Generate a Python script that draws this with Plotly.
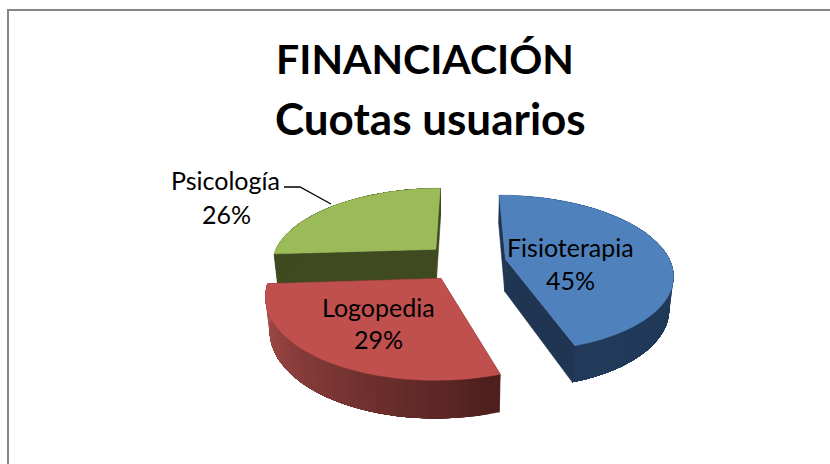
import math
import plotly.graph_objects as go

categories = ["Fisioterapia", "Logopedia", "Psicología"]
values = [45, 29, 26]
percent_labels = ["45%", "29%", "26%"]
top_colors = ["#4F81BD", "#C0504D", "#9BBB59"]
side_colors = ["#1F3552", "#4E1F1D", "#3F4A20"]
wall_light = ["#213A5A", "#AC504D", "#3F4A20"]

CX, CY, RX, RY, DEPTH, K, M, EXPLODE = 465, 262, 165, 76.5, 33, 0.182, 0.02, 0.25


def project(X, Y, Z):
    w = 1 / (1 + K * Y + M * Z)
    return CX + RX * X * w, CY - RY * Y * w + DEPTH * Z * w


def hex_rgb(c):
    return [int(c[i:i + 2], 16) for i in (1, 3, 5)]


def mix(a, b, t):
    ra, rb = hex_rgb(a), hex_rgb(b)
    return "rgb(%d,%d,%d)" % tuple(round(p + (q - p) * t) for p, q in zip(ra, rb))


fig = go.Figure()


def poly(points, color, edge=0.6):
    fig.add_trace(go.Scatter(
        x=[p[0] for p in points] + [points[0][0]],
        y=[p[1] for p in points] + [points[0][1]],
        mode="lines", fill="toself", fillcolor=color,
        line=dict(color=color, width=edge), hoverinfo="skip", showlegend=False))


total = sum(values)
slices = []
start = 0.0
for i, v in enumerate(values):
    sweep = 360.0 * v / total
    slices.append((i, start, start + sweep))
    start += sweep

# back to front: green, blue, red
for i, a0, a1 in [slices[2], slices[0], slices[1]]:
    mid = math.radians((a0 + a1) / 2)
    ox, oy = EXPLODE * math.sin(mid), EXPLODE * math.cos(mid)
    n = 36
    angles = [math.radians(a0 + (a1 - a0) * j / n) for j in range(n + 1)]
    rim = [(ox + math.sin(a), oy + math.cos(a)) for a in angles]
    # radial walls
    for X, Y in (rim[0], rim[-1]):
        poly([project(ox, oy, 0), project(X, Y, 0), project(X, Y, 1), project(ox, oy, 1)], side_colors[i])
    # outer wall, shaded along the sweep; each strip runs to the far end so no seams show
    for j in range(n):
        strip = rim[j:]
        poly([project(X, Y, 0) for X, Y in strip] + [project(X, Y, 1) for X, Y in reversed(strip)],
             mix(side_colors[i], wall_light[i], j / (n - 1)), edge=0)
    poly([project(ox, oy, 0)] + [project(X, Y, 0) for X, Y in rim], top_colors[i])

# Leader line for Psicología
fig.add_trace(go.Scatter(x=[284, 300, 331], y=[187, 187, 204], mode="lines",
                         line=dict(color="#000000", width=1.3), hoverinfo="skip", showlegend=False))

FONT = "Lato, Carlito, Calibri, sans-serif"
label_pos = [(570, 247, 570, 280), (378, 307, 378, 339), (225, 180, 226, 214)]
annotations = []
for name, pct, (x1, y1, x2, y2) in zip(categories, percent_labels, label_pos):
    annotations.append(dict(x=x1, y=y1, text=name, showarrow=False, xref="x", yref="y",
                            font=dict(family=FONT, size=25, color="#000000")))
    annotations.append(dict(x=x2, y=y2, text=pct, showarrow=False, xref="x", yref="y",
                            font=dict(family=FONT, size=25, color="#000000")))
annotations.append(dict(x=430, y=118, text="Cuotas usuarios", showarrow=False, xref="x", yref="y",
                        font=dict(family=FONT, size=44, color="#000000", weight="bold")))

fig.update_layout(
    width=830, height=464, margin=dict(l=0, r=0, t=0, b=0),
    paper_bgcolor="#FFFFFF", plot_bgcolor="#FFFFFF", showlegend=False,
    title=dict(text="FINANCIACIÓN", x=425 / 830, xanchor="center", y=1 - 60 / 464, yanchor="middle",
               font=dict(family=FONT, size=41, color="#000000", weight="bold")),
    xaxis=dict(range=[0, 830], visible=False, fixedrange=True),
    yaxis=dict(range=[464, 0], visible=False, fixedrange=True),
    annotations=annotations,
    shapes=[dict(type="rect", xref="x", yref="y", x0=8, y0=10, x1=900, y1=900,
                 line=dict(color="#868686", width=2), fillcolor="rgba(0,0,0,0)", layer="below")],
)
fig.write_html("out.html", config=dict(displayModeBar=False),
               post_script="document.body.style.margin='0';")
